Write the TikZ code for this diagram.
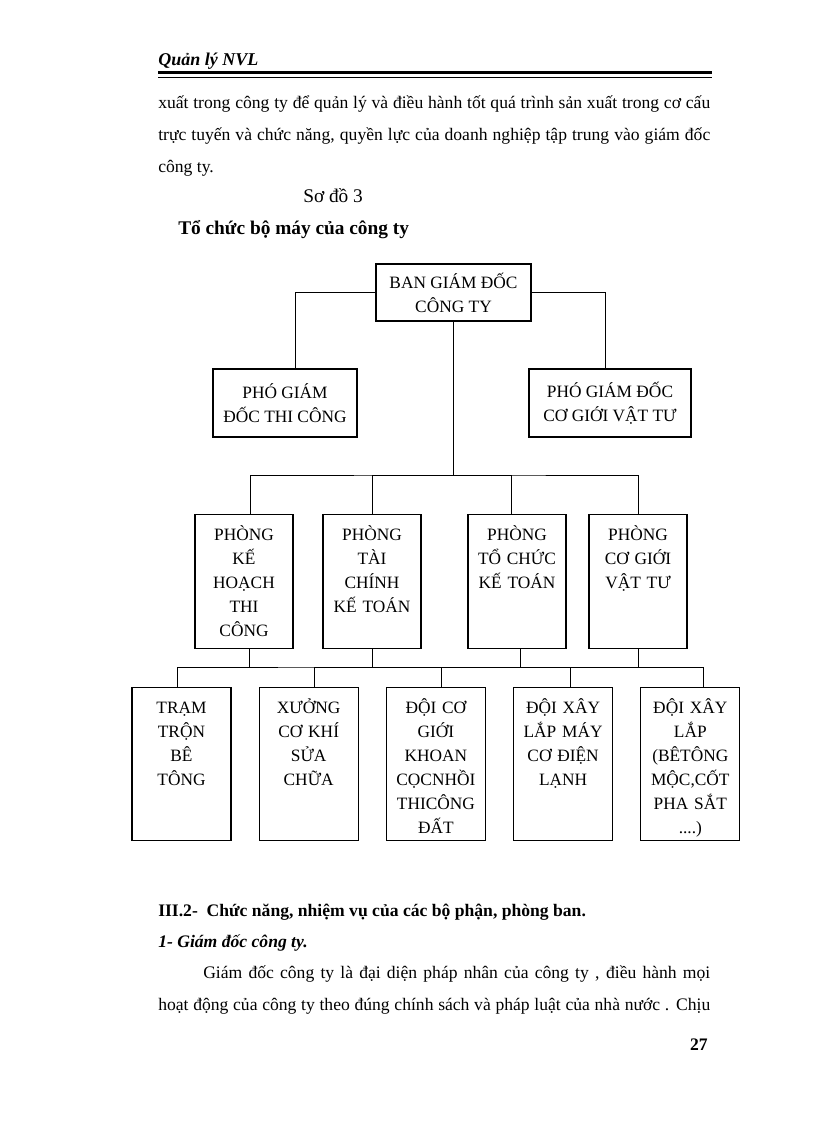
\documentclass[tikz,border=0pt]{standalone}
\usepackage{fontspec}
\setmainfont{Liberation Serif}
\usetikzlibrary{%
  positioning
}
\tikzstyle{page}=[x=0.75pt,y=-0.75pt]
\tikzstyle{box}=[rectangle,draw=black,line width=0.9pt,align=center,inner sep=0pt,font=\fontsize{13}{18}\selectfont]
\tikzstyle{lead}=[box,minimum height=51pt]
\tikzstyle{dept}=[box,anchor=north,text width=73.5pt,text height=19.5pt,text depth=81pt]
\tikzstyle{unit}=[box,anchor=north,text width=74.25pt,text height=19.5pt,text depth=95.25pt,node distance=20.25pt]
\tikzstyle{link}=[line width=0.6pt]
\tikzstyle{txt}=[anchor=base west,inner sep=0pt,font=\fontsize{13.2}{16}\selectfont]

\begin{document}
\begin{tikzpicture}[page]
      \useasboundingbox (0,0) rectangle (816,1123);
      % page text
      \node[txt,font=\bfseries\itshape\fontsize{13.5}{16}\selectfont] (hd) at (158,66) {Quản lý NVL};
      \draw[line width=2.25pt] (158,73) -- (712,73);
      \draw[line width=0.75pt] (158,77.5) -- (712,77.5);
      \node[txt] (t_1) at (158,109) {\makebox[414pt][s]{xuất trong công ty để quản lý và điều hành tốt quá trình sản xuất trong cơ cấu}};
      \node[txt] (t_2) at (158,141) {\makebox[414pt][s]{trực tuyến và chức năng, quyền lực của doanh nghiệp tập trung vào giám đốc}};
      \node[txt] (t_3) at (158,173) {công ty.};
      \node[txt,font=\fontsize{14.5}{16}\selectfont] (c_1) at (303,203) {Sơ đồ 3};
      \node[txt,font=\bfseries\fontsize{14.5}{16}\selectfont] (c_2) at (178,234) {Tổ chức bộ máy của công ty};
      % chart
      \node[box,minimum width=116.25pt,minimum height=42.75pt] (b_0) at (453.5,292.5) {BAN GIÁM ĐỐC\\CÔNG TY};
      \node[lead,minimum width=108pt] (p_1) at (285,403) {PHÓ GIÁM\\ĐỐC THI CÔNG};
      \node[lead,minimum width=121.5pt] (p_2) at (610,403) {PHÓ GIÁM ĐỐC\\CƠ GIỚI VẬT TƯ};
      \node[dept] (k_1) at (244,514) {PHÒNG\\KẾ\\HOẠCH\\THI\\CÔNG};
      \node[dept] (k_2) at (372,514) {PHÒNG\\TÀI\\CHÍNH\\KẾ TOÁN};
      \node[dept] (k_3) at (517,514) {PHÒNG\\TỔ CHỨC\\KẾ TOÁN};
      \node[dept] (k_4) at (638,514) {PHÒNG\\CƠ GIỚI\\VẬT TƯ};
      \node[unit] (d_1) at (181.5,687) {TRẠM\\TRỘN\\BÊ\\TÔNG};
      \node[unit,right=of d_1] (d_2) {XƯỞNG\\CƠ KHÍ\\SỬA\\CHỮA};
      \node[unit,right=of d_2] (d_3) {ĐỘI CƠ\\GIỚI\\KHOAN\\CỌCNHỒI\\THICÔNG\\ĐẤT};
      \node[unit,right=of d_3] (d_4) {ĐỘI XÂY\\LẮP MÁY\\CƠ ĐIỆN\\LẠNH};
      \node[unit,right=of d_4] (d_5) {ĐỘI XÂY\\LẮP\\(BÊTÔNG\\MỘC,CỐT\\PHA SẮT\\....)};
      \coordinate (u_0) at (455,475);
      \coordinate (u_1) at (376,667);
      \draw[link] (b_0.west) -| ([xshift=7.5pt]p_1.north);
      \draw[link] (b_0.east) -| ([xshift=-3.75pt]p_2.north);
      \draw[link] (b_0.south) -- (b_0.south |- u_0);
      \draw[link] ([xshift=4.5pt]k_1.north) |- (u_0) -| (k_4.north);
      \draw[link] (u_0) -| (k_2.north);
      \draw[link] (u_0) -| ([xshift=-4.5pt]k_3.north);
      \draw[link] ([xshift=3.75pt]k_1.south) -- ([xshift=3.75pt]k_1.south |- u_1);
      \draw[link] (k_2.south) -- (k_2.south |- u_1);
      \draw[link] ([xshift=2.25pt]k_3.south) -- ([xshift=2.25pt]k_3.south |- u_1);
      \draw[link] (k_4.south) -- (k_4.south |- u_1);
      \draw[link] ([xshift=-3pt]d_1.north) |- (u_1) -| ([xshift=10pt]d_5.north);
      \draw[link] (u_1) -| ([xshift=4pt]d_2.north);
      \draw[link] (u_1) -| ([xshift=4pt]d_3.north);
      \draw[link] (u_1) -| ([xshift=5.5pt]d_4.north);
      % text below
      \node[txt,font=\bfseries\fontsize{13.2}{16}\selectfont] (s_1) at (158,916) {III.2-\ \ Chức năng, nhiệm vụ của các bộ phận, phòng ban.};
      \node[txt,font=\bfseries\itshape\fontsize{13.2}{16}\selectfont] (s_2) at (158,947) {1- Giám đốc công ty.};
      \node[txt] (s_3) at (203,978) {\makebox[380.25pt][s]{Giám đốc công ty là đại diện pháp nhân của công ty , điều hành mọi}};
      \node[txt] (s_4) at (158,1010) {\makebox[414pt][s]{hoạt động của công ty theo đúng chính sách và pháp luật của nhà nước . Chịu}};
      \node[txt,anchor=base east,font=\bfseries\fontsize{13.2}{16}\selectfont] (pg) at (708,1050) {27};
    \end{tikzpicture}
\end{document}
